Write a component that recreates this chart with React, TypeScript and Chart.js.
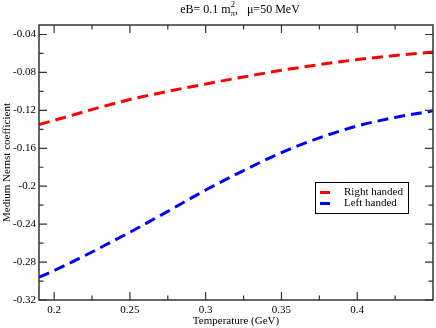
import React, { useEffect, useRef } from "react";
import { Chart, registerables } from "chart.js";

Chart.register(...registerables);

const temperatures = [0.19, 0.2, 0.25, 0.275, 0.3, 0.325, 0.35, 0.375, 0.4, 0.425, 0.45];
const rightHanded = [-0.135, -0.1305, -0.1085, -0.1, -0.0922, -0.0848, -0.0778, -0.0718, -0.0665, -0.0622, -0.0585];
const leftHanded = [-0.296, -0.289, -0.2485, -0.2265, -0.204, -0.1835, -0.1645, -0.149, -0.1365, -0.1275, -0.1205];

const seriesLabels = ["Right handed", "Left handed"];
const seriesColors = ["#ff0000", "#0000ff"];

const xMajor = [0.2, 0.25, 0.3, 0.35, 0.4];
const xMajorLabels = ["0.2", "0.25", "0.3", "0.35", "0.4"];
const xMinor = [0.225, 0.275, 0.325, 0.375, 0.425];
const yMajor = [-0.32, -0.28, -0.24, -0.2, -0.16, -0.12, -0.08, -0.04];
const yMajorLabels = ["-0.32", "-0.28", "-0.24", "-0.2", "-0.16", "-0.12", "-0.08", "-0.04"];
const yMinor = [-0.3, -0.26, -0.22, -0.18, -0.14, -0.1, -0.06];

const xTitle = "Temperature (GeV)";
const yTitle = "Medium Nernst coefficient";

const FONT = "'Liberation Serif', 'Times New Roman', serif";

const decorPlugin = {
  id: "decor",
  afterDraw(chart: any) {
    const ctx = chart.ctx as CanvasRenderingContext2D;
    const { left, right, top, bottom } = chart.chartArea;
    const xs = chart.scales.x;
    const ys = chart.scales.y;
    ctx.save();
    // frame
    ctx.strokeStyle = "#333";
    ctx.lineWidth = 1.5;
    ctx.strokeRect(left, top, right - left, bottom - top);
    // inward ticks
    ctx.lineWidth = 1.2;
    const drawX = (vals: number[], len: number) => {
      vals.forEach((v) => {
        const px = xs.getPixelForValue(v);
        ctx.beginPath();
        ctx.moveTo(px, bottom);
        ctx.lineTo(px, bottom - len);
        ctx.moveTo(px, top);
        ctx.lineTo(px, top + len);
        ctx.stroke();
      });
    };
    const drawY = (vals: number[], len: number) => {
      vals.forEach((v) => {
        const py = ys.getPixelForValue(v);
        ctx.beginPath();
        ctx.moveTo(left, py);
        ctx.lineTo(left + len, py);
        ctx.moveTo(right, py);
        ctx.lineTo(right - len, py);
        ctx.stroke();
      });
    };
    drawX(xMajor, 8);
    drawX(xMinor, 4.5);
    drawY(yMajor, 8);
    drawY(yMinor, 4.5);

    // axis titles
    ctx.fillStyle = "#000";
    ctx.font = `11px ${FONT}`;
    ctx.textAlign = "center";
    ctx.textBaseline = "middle";
    ctx.fillText(xTitle, (left + right) / 2, 321);
    ctx.save();
    ctx.translate(7, (top + bottom) / 2);
    ctx.rotate(-Math.PI / 2);
    ctx.fillText(yTitle, 0, 0);
    ctx.restore();

    // chart title with sub/superscript
    ctx.textAlign = "left";
    ctx.textBaseline = "alphabetic";
    const big = `12px ${FONT}`;
    const small = `8.5px ${FONT}`;
    const parts = [
      { t: "eB= 0.1 m", f: big, dy: 0, adv: true },
      { t: "\u03c0", f: small, dy: 3, adv: false },
      { t: "2", f: small, dy: -5.5, adv: true },
      { t: ",   \u03bc=50 MeV", f: big, dy: 0, adv: true },
    ];
    let total = 0;
    let maxSub = 0;
    parts.forEach((p) => {
      ctx.font = p.f;
      const w = ctx.measureText(p.t).width;
      if (!p.adv) maxSub = w;
      else {
        total += Math.max(w, maxSub);
        maxSub = 0;
      }
    });
    let x = 240 - total / 2;
    const baseY = 12.5;
    let subW = 0;
    parts.forEach((p) => {
      ctx.font = p.f;
      ctx.fillText(p.t, x, baseY + p.dy);
      const w = ctx.measureText(p.t).width;
      if (!p.adv) subW = w;
      else {
        x += Math.max(w, subW);
        subW = 0;
      }
    });

    // legend
    const bx = 315, by = 182, bw = 93, bh = 31;
    ctx.fillStyle = "#fff";
    ctx.fillRect(bx, by, bw, bh);
    ctx.strokeStyle = "#000";
    ctx.lineWidth = 1;
    ctx.strokeRect(bx + 0.5, by + 0.5, bw, bh);
    ctx.font = `11px ${FONT}`;
    ctx.textBaseline = "middle";
    chart.data.datasets.forEach((ds: any, i: number) => {
      const ly = 192.5 + i * 11;
      ctx.strokeStyle = ds.borderColor;
      ctx.lineWidth = 3;
      ctx.beginPath();
      ctx.moveTo(320, ly);
      ctx.lineTo(330, ly);
      ctx.stroke();
      ctx.fillStyle = "#000";
      ctx.fillText(ds.label, 344, ly);
    });
    ctx.restore();
  },
};

export default function App() {
  const ref = useRef<HTMLCanvasElement>(null);
  useEffect(() => {
    document.body.style.margin = "0";
    const canvas = ref.current!;
    const chart = new Chart(canvas, {
      type: "line",
      data: {
        datasets: [
          {
            label: seriesLabels[0],
            data: temperatures.map((t, i) => ({ x: t, y: rightHanded[i] })),
            borderColor: seriesColors[0],
            borderWidth: 3,
            borderDash: [11, 6],
            pointRadius: 0,
            cubicInterpolationMode: "monotone",
            fill: false,
          },
          {
            label: seriesLabels[1],
            data: temperatures.map((t, i) => ({ x: t, y: leftHanded[i] })),
            borderColor: seriesColors[1],
            borderWidth: 3,
            borderDash: [11, 6],
            pointRadius: 0,
            cubicInterpolationMode: "monotone",
            fill: false,
          },
        ],
      },
      options: {
        responsive: false,
        animation: false,
        layout: { padding: { top: 25, right: 3, left: 0, bottom: 0 } },
        plugins: { legend: { display: false }, tooltip: { enabled: false }, title: { display: false } },
        scales: {
          x: {
            type: "linear",
            min: 0.19,
            max: 0.45,
            afterFit: (s: any) => { s.height = 28; },
            afterBuildTicks: (s: any) => { s.ticks = xMajor.map((v) => ({ value: v })); },
            grid: { display: false, drawTicks: false },
            border: { display: false },
            ticks: {
              padding: 4,
              autoSkip: false,
              maxRotation: 0,
              color: "#000",
              font: { family: FONT, size: 11 },
              callback: (v: any) => { const i = xMajor.indexOf(Number(v)); return i >= 0 ? xMajorLabels[i] : ""; },
            },
          },
          y: {
            type: "linear",
            min: -0.32,
            max: -0.03,
            afterFit: (s: any) => { s.width = 39; },
            afterBuildTicks: (s: any) => { s.ticks = yMajor.map((v) => ({ value: v })); },
            grid: { display: false, drawTicks: false },
            border: { display: false },
            ticks: {
              padding: 3,
              autoSkip: false,
              color: "#000",
              font: { family: FONT, size: 11 },
              callback: (v: any) => { const i = yMajor.indexOf(Number(v)); return i >= 0 ? yMajorLabels[i] : ""; },
            },
          },
        },
      },
      plugins: [decorPlugin],
    } as any);
    return () => chart.destroy();
  }, []);
  return <canvas ref={ref} width={436} height={328} style={{ display: "block" }} />;
}
